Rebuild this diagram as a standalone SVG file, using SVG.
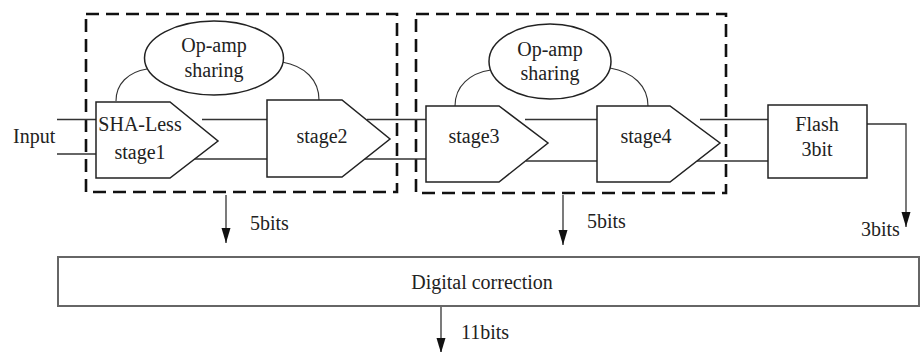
<svg xmlns="http://www.w3.org/2000/svg" width="920" height="352" viewBox="0 0 920 352">
<defs>
<style>
text{font-family:"Liberation Serif","Times New Roman",serif;font-size:20px;fill:#222}
.mid{text-anchor:middle}
.shape{fill:#fff;stroke:#222;stroke-width:1.5}
.dash{fill:none;stroke:#111;stroke-width:2.6;stroke-dasharray:13 7}
.wire{fill:none;stroke:#333;stroke-width:1.3}
.arc{fill:none;stroke:#333;stroke-width:1.1}
.arrow{fill:none;stroke:#333;stroke-width:1.3;marker-end:url(#ah)}
</style>
<marker id="ah" markerUnits="userSpaceOnUse" markerWidth="16" markerHeight="10" viewBox="0 0 16 10" refX="15" refY="5" orient="auto">
<path d="M0,0.5 L15,5 L0,9.5 z" fill="#111"/>
</marker>
</defs>
<rect width="920" height="352" fill="#fff"/>

<g id="group1">
<rect class="dash" x="86" y="14" width="311" height="178"/>
</g>
<g id="group2">
<rect class="dash" x="416" y="14" width="310" height="179"/>
</g>

<g id="connectors">
<!-- input lines -->
<line class="wire" x1="57" y1="119.5" x2="96" y2="119.5"/>
<line class="wire" x1="57" y1="154" x2="96" y2="154"/>
<!-- stage1 -> stage2 -->
<line class="wire" x1="202" y1="119.5" x2="267" y2="119.5"/>
<line class="wire" x1="194" y1="159" x2="267" y2="159"/>
<!-- stage2 -> stage3 -->
<line class="wire" x1="367" y1="119.5" x2="426" y2="119.5"/>
<line class="wire" x1="363" y1="159" x2="426" y2="159"/>
<!-- stage3 -> stage4 -->
<line class="wire" x1="525" y1="119.5" x2="597" y2="119.5"/>
<line class="wire" x1="526" y1="161" x2="597" y2="161"/>
<!-- stage4 -> flash -->
<line class="wire" x1="700" y1="119.5" x2="768" y2="119.5"/>
<line class="wire" x1="696" y1="161" x2="768" y2="161"/>
<!-- op-amp sharing arcs -->
<path class="arc" d="M147,69 C128,72 116,84 116,101"/>
<path class="arc" d="M282,62 C305,66 319,80 319,100"/>
<path class="arc" d="M491,70 C470,73 455,86 455,106"/>
<path class="arc" d="M610,68 C633,72 648,86 648,106"/>
<!-- outputs -->
<line class="arrow" x1="226" y1="195" x2="226" y2="243"/>
<line class="arrow" x1="563" y1="195" x2="563" y2="245"/>
<polyline class="arrow" points="867,124 906,124 906,227"/>
<line class="arrow" x1="441" y1="306" x2="441" y2="353"/>
</g>

<g id="input-label"><text x="13" y="143">Input</text></g>

<g id="opamp1">
<ellipse class="shape" cx="214" cy="58" rx="69.5" ry="37"/>
<text class="mid" x="214" y="52">Op-amp</text>
<text class="mid" x="214" y="77">sharing</text>
</g>
<g id="opamp2">
<ellipse class="shape" cx="550" cy="61.5" rx="61" ry="37.5"/>
<text class="mid" x="550" y="56">Op-amp</text>
<text class="mid" x="550" y="80">sharing</text>
</g>

<g id="stage1">
<polygon class="shape" points="96,102 170,102 218,141 170,178 96,178"/>
<text class="mid" x="140" y="131">SHA-Less</text>
<text class="mid" x="140" y="159">stage1</text>
</g>
<g id="stage2">
<polygon class="shape" points="267,100 342,100 390,139 342,177 267,177"/>
<text class="mid" x="322" y="143">stage2</text>
</g>
<g id="stage3">
<polygon class="shape" points="426,106 499,106 548,143 499,182 426,182"/>
<text class="mid" x="474" y="143">stage3</text>
</g>
<g id="stage4">
<polygon class="shape" points="597,106 670,106 720,143 670,182 597,182"/>
<text class="mid" x="646" y="143">stage4</text>
</g>
<g id="flash">
<rect class="shape" x="768" y="105" width="99" height="73"/>
<text class="mid" x="817" y="131">Flash</text>
<text class="mid" x="817" y="156">3bit</text>
</g>

<g id="labels">
<text x="250" y="230">5bits</text>
<text x="587" y="228">5bits</text>
<text x="861" y="236">3bits</text>
<text x="461" y="339">11bits</text>
</g>

<g id="digital-correction">
<rect x="58" y="257" width="861" height="49" fill="#fff" stroke="#666" stroke-width="2"/>
<text class="mid" x="482" y="289">Digital correction</text>
</g>
</svg>
